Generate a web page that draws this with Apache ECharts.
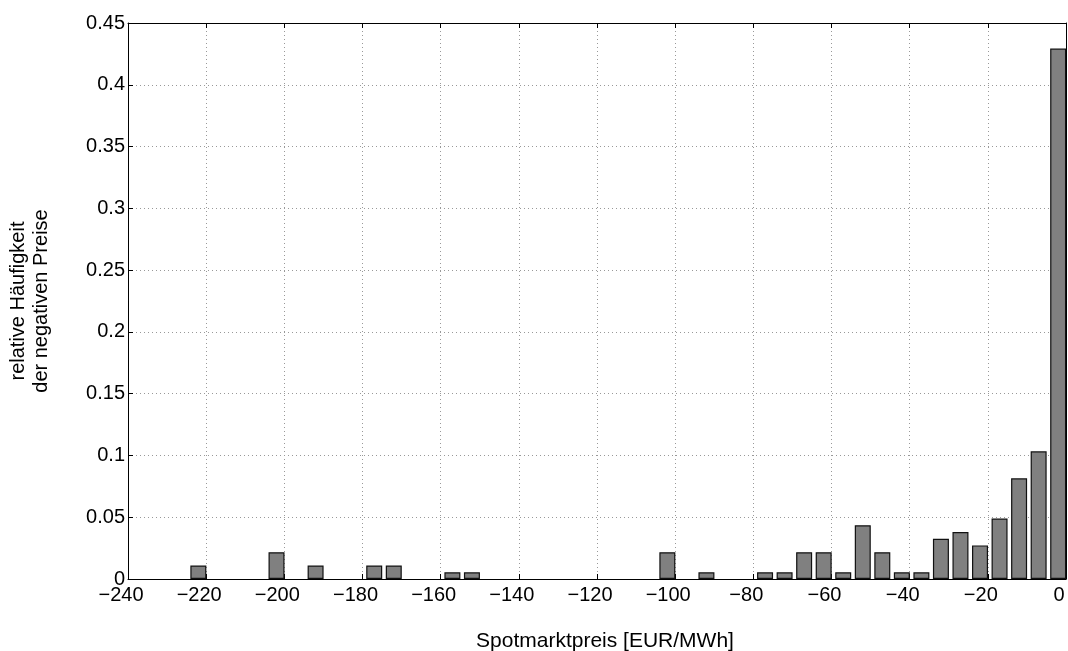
<!DOCTYPE html>
<html>

<head>
  <meta charset="utf-8">
  <title>Spotmarktpreis Histogramm</title>
  <script src="https://cdn.jsdelivr.net/npm/echarts@6/dist/echarts.min.js"></script>
  <style>
    html, body {
      margin: 0;
      padding: 0;
      background: #fff;
    }

    #chart {
      width: 1068px;
      height: 651px;
    }
  </style>
</head>

<body>
  <div id="chart"></div>
  <script>
    // Klassenmitten (EUR/MWh) und relative Haeufigkeit
    var binCenters = [-222, -202, -192, -177, -172, -157, -152, -102, -92, -77, -72, -67, -62,
      -57, -52, -47, -42, -37, -32, -27, -22, -17, -12, -7, -2];
    var relFreq = [0.0109, 0.0217, 0.0109, 0.0109, 0.0109, 0.0054, 0.0054, 0.0217, 0.0054, 0.0054, 0.0054,
      0.0217, 0.0217, 0.0054, 0.0435, 0.0217, 0.0054, 0.0054, 0.0326, 0.0380, 0.0272, 0.0489, 0.0815,
      0.1033, 0.4293];

    var font = "'Liberation Sans', Arial, sans-serif";
    var chart = echarts.init(document.getElementById("chart"));

    var barData = [];
    for (var i = 0; i < binCenters.length; i++) {
      barData.push([binCenters[i], relFreq[i]]);
    }

    function minus(v) {
      return String(v).replace('-', '\u2212');
    }

    var tickStyle = { show: true, inside: true, length: 5, lineStyle: { color: '#000' } };
    var lineStyle = { show: true, onZero: false, lineStyle: { color: '#000', width: 1 } };
    var gridLine = { show: true, lineStyle: { color: '#999', type: [1, 3], width: 1 } };

    var option = {
      animation: false,
      grid: { left: 128, right: 2, top: 23, bottom: 72, containLabel: false, outerBoundsMode: 'none' },
      xAxis: [{
        type: 'value', min: -240, max: 0, interval: 20,
        name: 'Spotmarktpreis [EUR/MWh]', nameLocation: 'middle', nameGap: 52,
        nameTextStyle: { fontFamily: font, fontSize: 21, color: '#000', padding: [0, 0, 0, 16] },
        axisLine: lineStyle, axisTick: tickStyle, splitLine: gridLine,
        axisLabel: {
          margin: 6, fontFamily: font, fontSize: 20, color: '#000',
          padding: [0, 14, 0, 0], formatter: minus
        }
      }, {
        type: 'value', position: 'top', min: -240, max: 0, interval: 20,
        axisLine: lineStyle, axisTick: tickStyle, axisLabel: { show: false }, splitLine: { show: false }
      }],
      yAxis: [{
        type: 'value', min: 0, max: 0.45, interval: 0.05,
        name: 'relative Häufigkeit\nder negativen Preise', nameLocation: 'middle', nameGap: 75,
        nameTextStyle: { fontFamily: font, fontSize: 20, color: '#000', lineHeight: 23 },
        axisLine: lineStyle, axisTick: tickStyle, splitLine: gridLine,
        axisLabel: {
          margin: 3, fontFamily: font, fontSize: 20, color: '#000',
          formatter: function (v) { return String(parseFloat(v.toFixed(2))); }
        }
      }, {
        type: 'value', position: 'right', min: 0, max: 0.45, interval: 0.05,
        axisLine: lineStyle, axisTick: tickStyle, axisLabel: { show: false }, splitLine: { show: false }
      }],
      series: [{
        type: 'bar',
        xAxisIndex: 0,
        yAxisIndex: 0,
        barWidth: 16,
        itemStyle: { color: '#808080', borderColor: '#111', borderWidth: 1.2 },
        data: barData
      }]
    };

    chart.setOption(option);
  </script>
</body>

</html>
